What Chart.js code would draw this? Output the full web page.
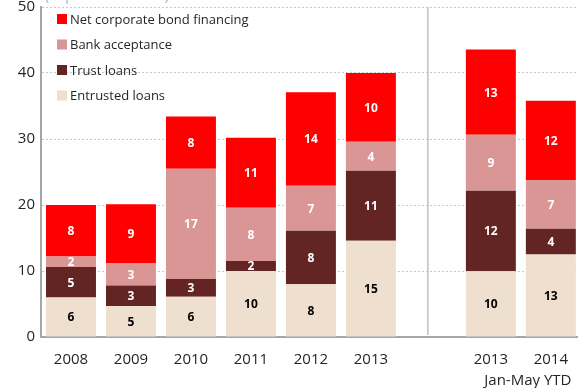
<!DOCTYPE html>
<html>
<head>
<meta charset="utf-8">
<script src="https://cdn.jsdelivr.net/npm/chart.js@4.4.1/dist/chart.umd.min.js"></script>
<style>
    html, body { margin: 0; padding: 0; background: #fff; overflow: hidden; }
    #wrap { width: 582px; height: 388px; position: relative; }
</style>
</head>
<body>
<div id="wrap"><canvas id="chart"></canvas></div>
<script>
// categories: a blank slot separates full years from the Jan-May YTD pair
const categories = ['2008', '2009', '2010', '2011', '2012', '2013', '', '2013', '2014'];
const yTicks = [0, 10, 20, 30, 40, 50];

// percent of GDP (labels show rounded values)
const entrustedLoans = [6.0, 4.7, 6.1, 10.0, 8.0, 14.6, null, 9.95, 12.5];
const trustLoans = [4.6, 3.1, 2.7, 1.5, 8.1, 10.6, null, 12.2, 3.9];
const bankAcceptance = [1.6, 3.4, 16.7, 8.1, 6.8, 4.4, null, 8.5, 7.4];
const corporateBonds = [7.8, 8.9, 7.9, 10.6, 14.2, 10.4, null, 12.9, 12.0];

const colors = {
    entrusted: '#EEDFCF',
    trust: '#632523',
    bank: '#D99694',
    bonds: '#FF0000'
};

const font = "'Open Sans', 'DejaVu Sans', sans-serif";

const barLabels = {
    id: 'barLabels',
    afterDatasetsDraw(chart) {
        const ctx = chart.ctx;
        ctx.save();
        ctx.font = `bold 12px ${font}`;
        ctx.textAlign = 'center';
        ctx.textBaseline = 'middle';
        chart.data.datasets.forEach((ds, i) => {
            const meta = chart.getDatasetMeta(i);
            meta.data.forEach((bar, j) => {
                const v = ds.data[j];
                if (v == null) return;
                ctx.fillStyle = i === 0 ? '#000' : '#fff';
                ctx.fillText(Math.round(v), bar.x, (bar.y + bar.base) / 2 + 1);
            });
        });
        ctx.restore();
    }
};

const extras = {
    id: 'extras',
    beforeDatasetsDraw(chart) {
        const { ctx, chartArea, scales } = chart;
        const x = scales.x.getPixelForValue(6) - 3;
        ctx.save();
        ctx.strokeStyle = '#C0C0C0';
        ctx.lineWidth = 1.5;
        ctx.beginPath();
        ctx.moveTo(x, chartArea.top);
        ctx.lineTo(x, chartArea.bottom - 2);
        ctx.stroke();
        ctx.restore();
    },
    afterDraw(chart) {
        const { ctx, scales } = chart;
        ctx.save();
        // title, cut off by the top edge
        ctx.font = `14px ${font}`;
        ctx.fillStyle = '#8EB4E3';
        ctx.textBaseline = 'alphabetic';
        ctx.fillText('(In percent of GDP)', 45, 0);

        // legend, top-left inside the plot
        const items = chart.data.datasets.slice().reverse();
        ctx.font = `13px ${font}`;
        ctx.textBaseline = 'middle';
        items.forEach((ds, k) => {
            const y = 19 + k * 25.5;
            ctx.fillStyle = ds.backgroundColor;
            ctx.fillRect(57, y - 5, 10, 10);
            ctx.fillStyle = '#262626';
            ctx.fillText(ds.label, 70, y + 1);
        });

        // second line under the YTD pair
        ctx.font = `15px ${font}`;
        ctx.textAlign = 'center';
        ctx.fillStyle = '#262626';
        const mid = (scales.x.getPixelForValue(7) + scales.x.getPixelForValue(8)) / 2;
        ctx.fillText('Jan-May YTD', mid + 7, 381);
        ctx.restore();
    }
};

new Chart(document.getElementById('chart'), {
    type: 'bar',
    data: {
        labels: categories,
        datasets: [
            { label: 'Entrusted loans', data: entrustedLoans, backgroundColor: colors.entrusted },
            { label: 'Trust loans', data: trustLoans, backgroundColor: colors.trust },
            { label: 'Bank acceptance', data: bankAcceptance, backgroundColor: colors.bank },
            { label: 'Net corporate bond financing', data: corporateBonds, backgroundColor: colors.bonds }
        ]
    },
    options: {
        responsive: true,
        maintainAspectRatio: false,
        animation: false,
        datasets: { bar: { categoryPercentage: 1, barPercentage: 0.833, borderWidth: 0 } },
        layout: { padding: { top: 7, left: 0, right: 0, bottom: 0 } },
        plugins: { legend: { display: false }, tooltip: { enabled: false } },
        scales: {
            x: {
                stacked: true,
                grid: { display: false, drawTicks: false },
                border: { display: true, color: '#A6A6A6', width: 2 },
                ticks: { color: '#262626', font: { family: font, size: 15 }, padding: 14, maxRotation: 0, autoSkip: false },
                afterFit(scale) { scale.height = 51; }
            },
            y: {
                stacked: true,
                min: 0,
                max: 50,
                afterBuildTicks(scale) { scale.ticks = yTicks.map((v) => ({ value: v })); },
                grid: { color: '#C8C8C8', drawTicks: false },
                border: { display: true, color: '#A6A6A6', width: 2, dash: [2, 2] },
                ticks: { color: '#262626', font: { family: font, size: 15 }, padding: 6 },
                afterFit(scale) {
                    scale.width = 41;
                    scale.paddingTop = 0;
                    scale.paddingBottom = 0;
                }
            }
        }
    },
    plugins: [barLabels, extras]
});
</script>
</body>
</html>
